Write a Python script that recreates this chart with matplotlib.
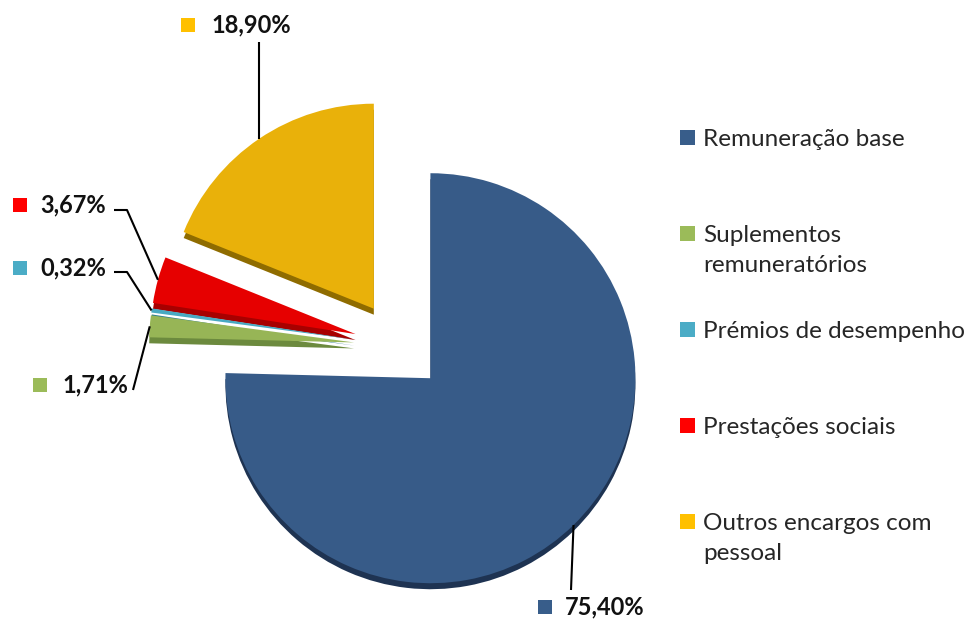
import numpy as np
import matplotlib.pyplot as plt
from matplotlib.patches import Rectangle

categories = ["Remuneração base", "Suplementos\nremuneratórios", "Prémios de desempenho",
              "Prestações sociais", "Outros encargos com\npessoal"]
values = [75.40, 1.71, 0.32, 3.67, 18.90]
labels = ["75,40%", "1,71%", "0,32%", "3,67%", "18,90%"]

slice_colors = ["#375B88", "#97B556", "#48A9C2", "#E60000", "#E9B10A"]
legend_colors = ["#385D8A", "#9BBB59", "#4BACC6", "#FF0000", "#FFC000"]
rim_colors = ["#1E3352", "#6C8A3E", "#2F7E93", "#A80000", "#8F6C00"]

W, H = 973, 621
cx, cy, R = 399, H - 346, 205
explode = [45, 45, 45, 45, 45]

plt.rcParams["font.family"] = ["Lato", "DejaVu Sans"]

fig = plt.figure(figsize=(W / 100, H / 100), dpi=100)
ax = fig.add_axes([0, 0, 1, 1])

# thin darker rim under the slices (fake 3D depth)
ax.pie(values, explode=explode, radius=R, center=(cx, cy - 6), startangle=90,
       counterclock=False, colors=rim_colors, wedgeprops=dict(linewidth=0))
wedges, _ = ax.pie(values, explode=explode, radius=R, center=(cx, cy), startangle=90,
                   counterclock=False, colors=slice_colors, wedgeprops=dict(linewidth=0))

ax.set_xlim(0, W)
ax.set_ylim(0, H)
ax.set_aspect("equal")
ax.axis("off")

# data labels: (square x, text x, y, leader path start points)
label_pos = [
    (545, 565, 607, [(571, 590)]),
    (40, 62, 385, [(133, 390)]),
    (20, 40, 268, [(114, 272), (127, 272)]),
    (20, 40, 205, [(114, 210), (127, 210)]),
    (188, 211, 25, [None]),
]

for w, lab, lc, (sx, tx, ty, path) in zip(wedges, labels, legend_colors, label_pos):
    mid = np.deg2rad((w.theta1 + w.theta2) / 2)
    ax_x = w.center[0] + w.r * np.cos(mid)
    ax_y = w.center[1] + w.r * np.sin(mid)
    ax.add_patch(Rectangle((sx - 7, H - ty - 7), 14, 14, color=lc, lw=0))
    ax.text(tx, H - ty, lab, fontsize=17, fontweight="bold", color="#111111",
            va="center", ha="left")
    if path[0] is None:
        pts = [(ax_x, 42)]
    else:
        pts = path
    xs = [p[0] for p in pts] + [ax_x]
    ys = [H - p[1] for p in pts] + [ax_y]
    ax.plot(xs, ys, color="black", lw=1.5, solid_capstyle="butt")

# legend drawn by hand so the squares line up with the first text line
legend_y = [137, 233, 329, 425, 521]
for name, col, y in zip(categories, legend_colors, legend_y):
    ax.add_patch(Rectangle((680, H - y - 7.5), 15, 15, color=col, lw=0))
    ax.text(703, H - y + 8, name, fontsize=17.5, color="#262626", va="top", ha="left",
            linespacing=1.55)

fig.savefig("out.png", dpi=100)
